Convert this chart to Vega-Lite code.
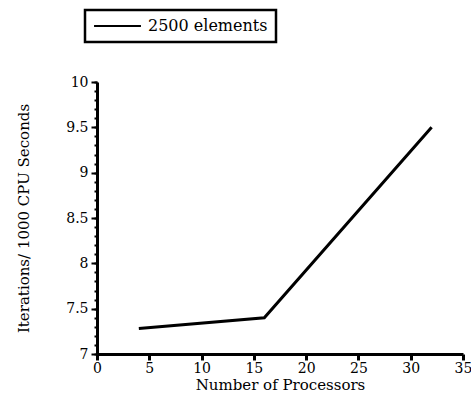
{
  "$schema": "https://vega.github.io/schema/vega-lite/v6.json",
  "width": 366,
  "height": 272,
  "autosize": "none",
  "padding": {"left": 97, "top": 82, "right": 8, "bottom": 52},
  "background": "white",
  "data": {"values": [
    {"processors": 4, "rate": 7.28, "series": "2500 elements"},
    {"processors": 16, "rate": 7.40, "series": "2500 elements"},
    {"processors": 32, "rate": 9.5, "series": "2500 elements"}
  ]},
  "config": {
    "font": "DejaVu Serif",
    "view": {"stroke": null},
    "axis": {"grid": false, "domainColor": "black", "tickColor": "black", "labelColor": "black", "titleColor": "black", "labelFont": "DejaVu Serif", "titleFont": "DejaVu Serif", "labelFontSize": 14, "titleFontSize": 15, "titleFontWeight": "normal"}
  },
  "resolve": {"axis": {"y": "independent"}},
  "layer": [
    {
      "mark": {"type": "line", "strokeWidth": 3, "color": "black"},
      "encoding": {
        "x": {"field": "processors", "type": "quantitative", "scale": {"domain": [0, 35], "nice": false},
          "axis": {"values": [0,5,10,15,20,25,30,35], "title": "Number of Processors", "domainWidth": 3, "tickWidth": 3, "tickSize": 6, "labelPadding": 1, "titlePadding": 2, "labelFlush": false}},
        "y": {"field": "rate", "type": "quantitative", "scale": {"domain": [7, 10], "nice": false},
          "axis": {"values": [7,7.5,8,8.5,9,9.5,10], "format": "~g", "title": "Iterations/ 1000 CPU Seconds", "domainWidth": 3, "tickWidth": 2, "tickSize": 6, "labelPadding": 3, "titlePadding": 34, "labelFlush": false}},
        "color": {"field": "series", "type": "nominal", "scale": {"range": ["black"]},
          "legend": {"title": null, "orient": "none", "legendX": -12, "legendY": -72, "symbolType": "stroke", "symbolStrokeWidth": 2, "symbolSize": 2200, "clipHeight": 16, "labelFontSize": 16, "labelFont": "DejaVu Serif", "labelColor": "black", "labelOffset": 6, "strokeColor": "black", "padding": 8, "fillColor": "white",
            "encode": {"legend": {"update": {"strokeWidth": {"value": 2.5}}}}}}
      }
    },
    {
      "mark": {"type": "rule"},
      "encoding": {
        "y": {"field": "rate", "type": "quantitative", "scale": {"domain": [7, 10], "nice": false},
          "axis": {"orient": "left", "values": [7,7.1,7.2,7.3,7.4,7.5,7.6,7.7,7.8,7.9,8,8.1,8.2,8.3,8.4,8.5,8.6,8.7,8.8,8.9,9,9.1,9.2,9.3,9.4,9.5,9.6,9.7,9.8,9.9,10], "labels": false, "title": null, "domain": false, "tickSize": 3, "tickWidth": 2}},
        "opacity": {"value": 0}
      }
    }
  ]
}
